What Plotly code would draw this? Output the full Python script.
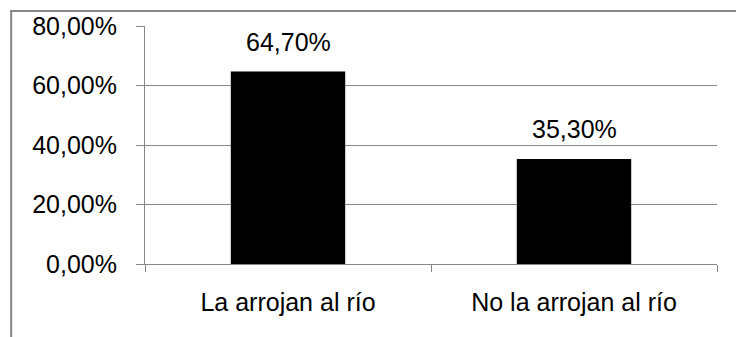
import plotly.graph_objects as go

categories = ["La arrojan al río", "No la arrojan al río"]
shares = [0.647, 0.353]
y_ticks = [0.0, 0.2, 0.4, 0.6, 0.8]

FONT = "Liberation Sans, Arial, sans-serif"
GRAY = "#878787"

fig = go.Figure(
    go.Bar(
        x=categories,
        y=shares,
        width=0.4,
        marker=dict(color="#000000", line=dict(width=0)),
        hoverinfo="skip",
    )
)

# value labels above each bar
for cat, val in zip(categories, shares):
    fig.add_annotation(
        x=cat, y=val, xref="x", yref="y",
        text=f"{val*100:.2f}%".replace(".", ","),
        showarrow=False, yanchor="bottom", yshift=14,
        font=dict(family=FONT, size=25, color="#000000"),
    )

# outer chart frame
fig.add_shape(
    type="rect", xref="paper", yref="paper",
    x0=-0.234, y0=-0.36, x1=1.06, y1=1.063,
    line=dict(color=GRAY, width=2), fillcolor="rgba(0,0,0,0)", layer="below",
)

fig.update_layout(
    width=736, height=337,
    margin=dict(l=145, r=19, t=24, b=73, pad=0),
    paper_bgcolor="white", plot_bgcolor="white",
    separators=",.",
    showlegend=False,
    font=dict(family=FONT, size=25, color="#000000"),
    bargap=0.6,
)

fig.update_xaxes(
    type="category",
    tickson="boundaries",
    ticks="outside", ticklen=7, tickcolor=GRAY, tickwidth=1,
    showline=True, linecolor=GRAY, linewidth=1,
    showgrid=False,
    tickfont=dict(family=FONT, size=25, color="#000000"),
    ticklabelstandoff=16,
)

fig.update_yaxes(
    range=[0, 0.8],
    tickvals=y_ticks, tickformat=".2%",
    ticks="outside", ticklen=8, tickcolor=GRAY, tickwidth=1,
    showline=True, linecolor=GRAY, linewidth=1,
    showgrid=True, gridcolor=GRAY, gridwidth=1,
    zeroline=False,
    tickfont=dict(family=FONT, size=25, color="#000000"),
    ticklabelstandoff=14,
)

fig.write_html("out.html")
